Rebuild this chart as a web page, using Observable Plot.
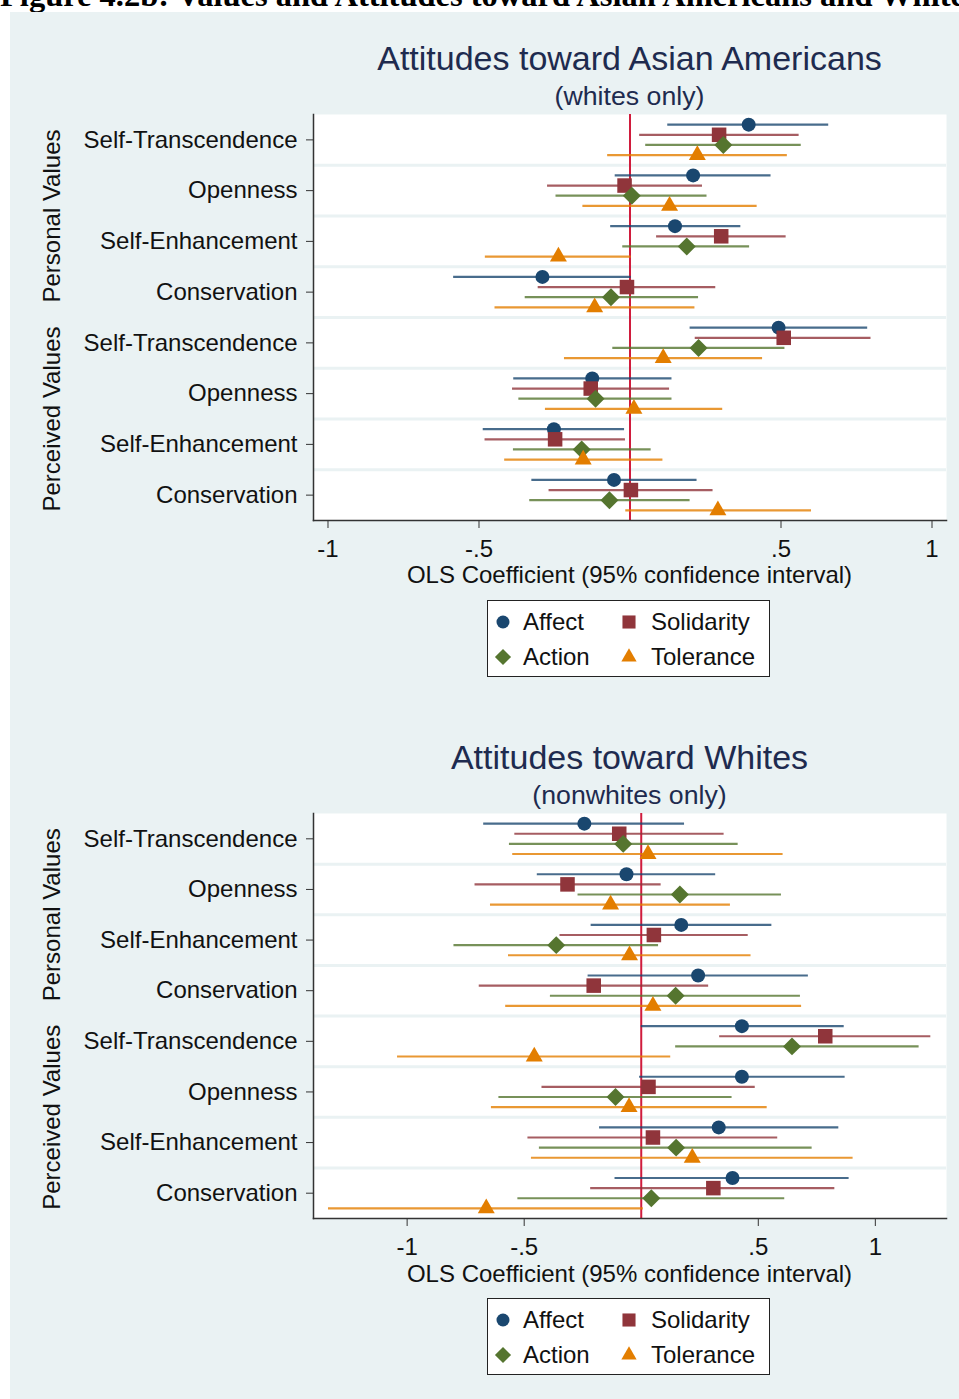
<!DOCTYPE html>
<html>
<head>
<meta charset="utf-8">
<script src="https://cdn.jsdelivr.net/npm/d3@7"></script>
<script src="https://cdn.jsdelivr.net/npm/@observablehq/plot@0.6"></script>
<style>
html, body { margin: 0; padding: 0; background: #fff; }
#page { position: relative; width: 959px; height: 1399px; overflow: hidden; background: #fff; font-family: "Liberation Sans", Arial, sans-serif; }
#panel { position: absolute; left: 10px; top: 12px; right: 0; bottom: 0; background: #EAF2F3; }
#capwrap { position: absolute; left: 0; top: 0; width: 959px; height: 12px; overflow: hidden; }
#caption { position: absolute; left: 0; top: -21px; white-space: nowrap; font: bold 32.5px/32px "Liberation Serif", "Times New Roman", serif; color: #000; }
.title { position: absolute; left: 313px; width: 633px; text-align: center; color: #1e2b4f; white-space: nowrap; }
.t1 { font-size: 34px; line-height: 34px; }
.t2 { font-size: 26.7px; line-height: 26.7px; }
.xlab { position: absolute; left: 313px; width: 633px; text-align: center; color: #111; font-size: 24px; line-height: 24px; white-space: nowrap; }
.chart { position: absolute; left: 0; }
.legend { position: absolute; left: 487px; width: 281px; height: 75px; background: #fff; border: 1.5px solid #222; }
.legend .item { position: absolute; font-size: 24px; line-height: 24px; color: #111; white-space: nowrap; }
.legend svg { position: absolute; overflow: visible; }
</style>
</head>
<body>
<div id="page">
  <div id="capwrap"><span id="caption">Figure 4.2b: Values and Attitudes toward Asian Americans and Whites</span></div>
  <div id="panel"></div>
</div>
<script>
// ---------- data ----------
const categories = ["Self-Transcendence", "Openness", "Self-Enhancement", "Conservation",
                    "Self-Transcendence", "Openness", "Self-Enhancement", "Conservation"];
const groupNames = ["Personal Values", "Perceived Values"];
const rowGroup = [0, 0, 0, 0, 1, 1, 1, 1];
const seriesNames = ["Affect", "Solidarity", "Action", "Tolerance"];
const xTicks = [-1, -0.5, 0.5, 1];

// Attitudes toward Asian Americans (whites only): [coefficient, lower, upper]
const asianAffect = [[0.393,0.125,0.658],[0.209,-0.049,0.467],[0.149,-0.064,0.367],[-0.290,-0.584,0.004],
                     [0.492,0.199,0.787],[-0.125,-0.385,0.139],[-0.252,-0.486,-0.018],[-0.053,-0.325,0.222]];
const asianSolidarity = [[0.295,0.032,0.560],[-0.018,-0.273,0.240],[0.302,0.088,0.517],[-0.010,-0.304,0.284],
                         [0.509,0.216,0.798],[-0.130,-0.389,0.131],[-0.248,-0.480,-0.015],[0.003,-0.268,0.275]];
const asianAction = [[0.309,0.052,0.567],[0.006,-0.245,0.255],[0.188,-0.024,0.396],[-0.063,-0.347,0.227],
                     [0.227,-0.057,0.513],[-0.114,-0.368,0.139],[-0.160,-0.386,0.070],[-0.068,-0.332,0.199]];
const asianTolerance = [[0.223,-0.074,0.521],[0.131,-0.156,0.421],[-0.237,-0.479,0.004],[-0.117,-0.447,0.215],
                        [0.110,-0.217,0.439],[0.013,-0.280,0.307],[-0.155,-0.415,0.109],[0.291,-0.014,0.601]];

// Attitudes toward Whites (nonwhites only): [coefficient, lower, upper]
const whiteAffect = [[-0.243,-0.673,0.185],[-0.063,-0.444,0.318],[0.171,-0.214,0.558],[0.243,-0.227,0.714],
                     [0.430,0.000,0.867],[0.430,-0.007,0.871],[0.331,-0.178,0.844],[0.390,-0.112,0.888]];
const whiteSolidarity = [[-0.094,-0.540,0.354],[-0.315,-0.710,0.085],[0.054,-0.347,0.457],[-0.203,-0.692,0.288],
                         [0.786,0.335,1.237],[0.031,-0.424,0.487],[0.050,-0.484,0.583],[0.308,-0.216,0.827]];
const whiteAction = [[-0.077,-0.563,0.414],[0.165,-0.270,0.599],[-0.363,-0.800,0.074],[0.147,-0.388,0.680],
                     [0.644,0.147,1.187],[-0.110,-0.608,0.388],[0.149,-0.435,0.730],[0.043,-0.527,0.613]];
const whiteTolerance = [[0.029,-0.549,0.606],[-0.131,-0.644,0.381],[-0.050,-0.567,0.469],[0.050,-0.579,0.685],
                        [-0.457,-1.041,0.126],[-0.052,-0.640,0.538],[0.218,-0.469,0.905],[-0.662,-1.336,0.009]];

// ---------- style ----------
const BG = "#EAF2F3";
const RED = "#d01c3d";
const AXIS = "#333";
const seriesColors = ["#1a476f", "#90353b", "#55752f", "#e37e00"];
const seriesSymbols = ["circle", "square", "diamond2", "triangle"];
const seriesR = [7, 8.2, 8.1, 6.3];
const seriesOffset = [-0.3, -0.1, 0.1, 0.3];
const FONT = '"Liberation Sans", Arial, sans-serif';

function tickFmt(d) { return String(d).replace("0.", "."); }

function drawChart(series, xDomain, plotH) {
  const n = categories.length;
  const rows = [];
  series.forEach((arr, s) => arr.forEach(([b, lo, hi], i) =>
    rows.push({row: i, y: i + seriesOffset[s], s, b, lo, hi})));
  const gl = groupNames.map((name, g) => ({
    name, mid: d3.mean(d3.range(n).filter(i => rowGroup[i] === g))
  }));
  const marks = [
    Plot.frame({fill: "white", stroke: "none"}),
    Plot.ruleY(d3.range(n - 1), {y: i => i + 0.5, stroke: BG, strokeWidth: 3}),
    Plot.ruleX([0], {stroke: RED, strokeWidth: 2})
  ];
  seriesNames.forEach((name, s) => {
    marks.push(Plot.ruleY(rows.filter(r => r.s === s), {
      y: "y", x1: "lo", x2: "hi", stroke: seriesColors[s], strokeWidth: 2.2, strokeOpacity: 0.8
    }));
  });
  seriesNames.forEach((name, s) => {
    marks.push(Plot.dot(rows.filter(r => r.s === s), {
      x: "b", y: "y", symbol: () => seriesSymbols[s], r: seriesR[s], fill: seriesColors[s], stroke: "none"
    }));
  });
  marks.push(
    Plot.frame({anchor: "left", stroke: AXIS, strokeWidth: 1.5}),
    Plot.frame({anchor: "bottom", stroke: AXIS, strokeWidth: 1.5}),
    Plot.axisY({ticks: d3.range(n), tickFormat: i => categories[i], tickSize: 7, tickPadding: 9,
                label: null, color: "#111", stroke: AXIS}),
    Plot.axisX({ticks: xTicks, tickFormat: tickFmt, tickSize: 8, tickPadding: 11,
                label: null, color: "#111", stroke: AXIS}),
    Plot.text(gl, {y: "mid", text: "name", frameAnchor: "left", textAnchor: "middle", dx: -261, rotate: -90,
                   fill: "#111", fontSize: 24})
  );
  return Plot.plot({
    width: 959, height: 10 + plotH + 80,
    marginTop: 10, marginBottom: 80, marginLeft: 313, marginRight: 13,
    x: {domain: xDomain},
    y: {domain: [-0.5, n - 0.5], reverse: true},
    style: {fontFamily: FONT, fontSize: "24px", background: "transparent", overflow: "visible", color: "#111"},
    marks
  });
}

function addText(cls, text, top) {
  const d = document.createElement("div");
  d.className = cls;
  d.textContent = text;
  d.style.top = top + "px";
  page.appendChild(d);
}

function addLegend(top) {
  const box = document.createElement("div");
  box.className = "legend";
  box.style.top = top + "px";
  const pos = [[0, 0], [1, 0], [0, 1], [1, 1]]; // Affect, Solidarity, Action, Tolerance in 2 columns
  seriesNames.forEach((name, s) => {
    const [c, r] = pos[s];
    const cx = c === 0 ? 15 : 141;
    const cy = r === 0 ? 21 : 56;
    const svg = d3.create("svg").attr("width", 1).attr("height", 1)
      .style("left", cx + "px").style("top", cy + "px");
    const sym = {circle: d3.symbolCircle, square: d3.symbolSquare, diamond2: d3.symbolDiamond2, triangle: d3.symbolTriangle}[seriesSymbols[s]];
    const rr = seriesR[s] * (s === 0 ? 0.93 : 0.9);
    svg.append("path").attr("d", d3.symbol(sym, Math.PI * rr * rr)()).attr("fill", seriesColors[s]);
    box.appendChild(svg.node());
    const t = document.createElement("div");
    t.className = "item";
    t.textContent = name;
    t.style.left = (c === 0 ? 35 : 163) + "px";
    t.style.top = (cy - 12) + "px";
    box.appendChild(t);
  });
  page.appendChild(box);
}

const page = document.getElementById("page");

// Top chart
addText("title t1", "Attitudes toward Asian Americans", 41);
addText("title t2", "(whites only)", 83);
const c1 = drawChart([asianAffect, asianSolidarity, asianAction, asianTolerance], [-1.048, 1.048], 406);
c1.classList.add("chart");
c1.style.position = "absolute";
c1.style.top = "104px";
page.appendChild(c1);
addText("xlab", "OLS Coefficient (95% confidence interval)", 563);
addLegend(600);

// Bottom chart
addText("title t1", "Attitudes toward Whites", 740);
addText("title t2", "(nonwhites only)", 782);
const c2 = drawChart([whiteAffect, whiteSolidarity, whiteAction, whiteTolerance], [-1.40, 1.304], 405);
c2.classList.add("chart");
c2.style.position = "absolute";
c2.style.top = "803px";
page.appendChild(c2);
addText("xlab", "OLS Coefficient (95% confidence interval)", 1262);
addLegend(1298);
</script>
</body>
</html>
